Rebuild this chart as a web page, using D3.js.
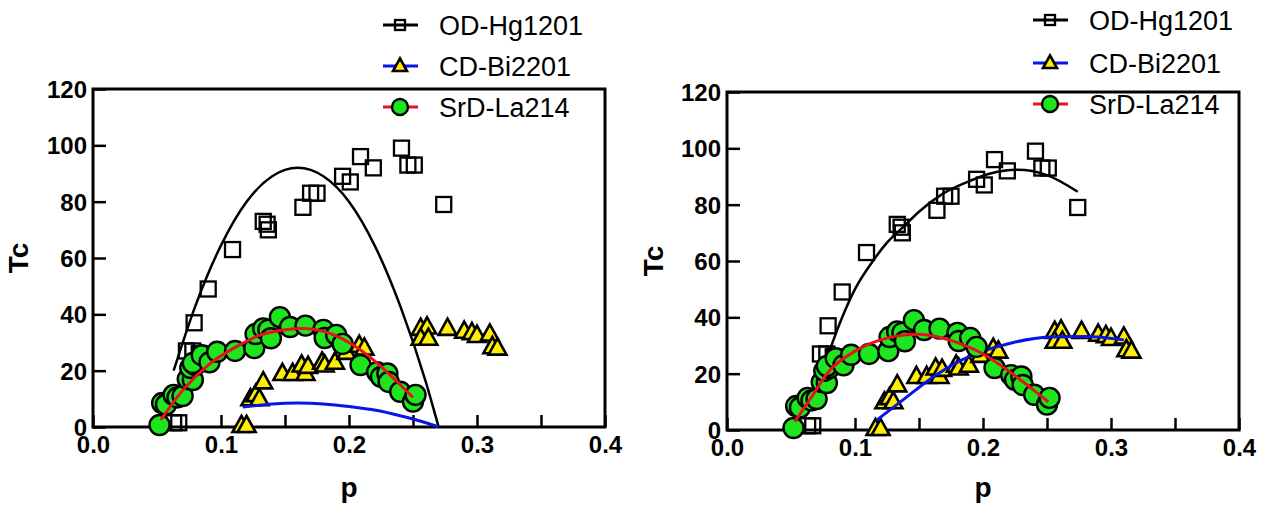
<!DOCTYPE html>
<html>
<head>
<meta charset="utf-8">
<script src="https://cdn.jsdelivr.net/npm/d3@7"></script>
<style>
  body { margin: 0; background: #fff; }
  svg { display: block; font-family: "Liberation Sans", Arial, sans-serif; }
</style>
</head>
<body>
<svg id="chart" width="1266" height="511"></svg>
<script>
// data points (same in both panels)
var hgP  = [0.063, 0.067, 0.073, 0.078, 0.083, 0.079, 0.090, 0.109, 0.133, 0.136, 0.137, 0.164, 0.170, 0.175, 0.195, 0.201, 0.209, 0.219, 0.241, 0.246, 0.251, 0.274];
var hgTc = [1.5, 1.5, 27, 27, 26, 37, 49, 63, 73, 72, 70, 78, 83, 83, 89, 87, 96, 92, 99, 93, 93, 79];

var biP  = [0.116, 0.120, 0.123, 0.127, 0.130, 0.133, 0.148, 0.156, 0.163, 0.166, 0.168, 0.179, 0.181, 0.189, 0.198, 0.208, 0.212, 0.256, 0.261, 0.256, 0.262, 0.277, 0.290, 0.296, 0.300, 0.310, 0.312, 0.316];
var biTc = [0.5, 0.5, 10, 11.5, 10, 16, 19, 19, 22, 19, 21.5, 23, 22, 23, 26.5, 29, 28, 35, 35.5, 31.5, 31.5, 35, 34, 33.5, 32.5, 33, 28.5, 28];

var laP  = [0.052, 0.054, 0.057, 0.063, 0.066, 0.070, 0.074, 0.078, 0.076, 0.080, 0.078, 0.085, 0.091, 0.097, 0.111, 0.126, 0.127, 0.133, 0.137, 0.139, 0.146, 0.154, 0.166, 0.180, 0.181, 0.190, 0.195, 0.209, 0.222, 0.225, 0.230, 0.231, 0.240, 0.250, 0.252];
var laTc = [0.7, 8.5, 8, 11.4, 10.5, 11, 17, 16.7, 21, 22, 22.7, 25.5, 23, 26.7, 27, 28, 33, 35, 34.5, 31.5, 39, 35.5, 36, 34.5, 31.6, 32.7, 29.5, 22, 19.5, 17.8, 19, 16, 12.5, 9, 11.4];

// fitted curves, left panel
var fitHgLP  = [0.063, 0.08, 0.10, 0.12, 0.14, 0.16, 0.18, 0.20, 0.22, 0.24, 0.26, 0.27];
var fitHgLTc = [20, 43, 64.5, 80, 89, 92, 89, 80, 64.5, 43, 16, 0];
var fitBiLP  = [0.117, 0.14, 0.16, 0.18, 0.20, 0.22, 0.24, 0.26, 0.27];
var fitBiLTc = [7.1, 8.2, 8.5, 8.2, 7.3, 6.0, 4.0, 1.5, 0];
var fitLaLP  = [0.053, 0.07, 0.09, 0.11, 0.13, 0.15, 0.165, 0.18, 0.20, 0.22, 0.24, 0.25];
var fitLaLTc = [2.5, 13, 22, 28, 32.5, 34.5, 35, 34, 30, 23.5, 15, 10.5];

// fitted curves, right panel
var fitHgRP  = [0.08, 0.09, 0.10, 0.114, 0.125, 0.1375, 0.15, 0.169, 0.19, 0.205, 0.227, 0.25, 0.274];
var fitHgRTc = [28, 40, 50, 60, 66.5, 72, 77.5, 84, 88.5, 91, 92.4, 90.5, 84.6];
var fitBiRP  = [0.117, 0.1375, 0.16, 0.184, 0.20, 0.223, 0.252, 0.28, 0.31];
var fitBiRTc = [3.5, 10.7, 18.5, 25, 28, 31, 33, 33.2, 32];
var fitLaRP  = [0.053, 0.065, 0.08, 0.10, 0.12, 0.14, 0.15, 0.165, 0.18, 0.20, 0.22, 0.24, 0.251];
var fitLaRTc = [3, 11, 21, 28, 32, 33.8, 34, 33, 31, 27, 21, 14, 10];

var legendNames = ["OD-Hg1201", "CD-Bi2201", "SrD-La214"];
var xTicks = [0, 0.05, 0.1, 0.15, 0.2, 0.25, 0.3, 0.35, 0.4];
var yTicks = [0, 20, 40, 60, 80, 100, 120];

var GREEN = "#1ee61e", YELLOW = "#ffee00";

var svg = d3.select("#chart");

function zip(a, b) { return a.map(function(v, i) { return [v, b[i]]; }); }

var panels = [
  { x0: 93,  x1: 605,  yb: 427, yt: 89,
    fits: [[fitHgLP, fitHgLTc], [fitBiLP, fitBiLTc], [fitLaLP, fitLaLTc]],
    legX: 400, legY: [25, 66, 107], ylabX: 18 },
  { x0: 727, x1: 1239, yb: 430, yt: 92,
    fits: [[fitHgRP, fitHgRTc], [fitBiRP, fitBiRTc], [fitLaRP, fitLaRTc]],
    legX: 1050, legY: [20, 63, 104], ylabX: 653 }
];

var lineColors = ["#000", "#0a14e6", "#e8121a"];

function drawMarker(g, kind, cx, cy, s) {
  if (kind === 0) {
    g.append("rect").attr("x", cx - s / 2).attr("y", cy - s / 2)
      .attr("width", s).attr("height", s)
      .attr("fill", "none").attr("stroke", "#000").attr("stroke-width", 2.3);
  } else if (kind === 1) {
    var h = s * 0.9;
    g.append("path")
      .attr("d", "M" + cx + "," + (cy - h * 0.6) + "L" + (cx + s / 2) + "," + (cy + h * 0.4) + "L" + (cx - s / 2) + "," + (cy + h * 0.4) + "Z")
      .attr("fill", YELLOW).attr("stroke", "#000").attr("stroke-width", 2.6)
      .attr("stroke-linejoin", "miter");
  } else {
    g.append("circle").attr("cx", cx).attr("cy", cy).attr("r", s / 2)
      .attr("fill", GREEN).attr("stroke", "#000").attr("stroke-width", 2.4);
  }
}

panels.forEach(function(pn) {
  var x = d3.scaleLinear().domain([0, 0.4]).range([pn.x0, pn.x1]);
  var y = d3.scaleLinear().domain([0, 120]).range([pn.yb, pn.yt]);
  var g = svg.append("g");

  // axes with inward ticks
  var xa = g.append("g").attr("transform", "translate(0," + pn.yb + ")")
    .call(d3.axisBottom(x).tickValues(xTicks).tickSize(-12).tickPadding(9)
      .tickFormat(function(d) { return Math.round(d * 100) % 10 === 0 ? d3.format(".1f")(d) : ""; }));
  var ya = g.append("g").attr("transform", "translate(" + pn.x0 + ",0)")
    .call(d3.axisLeft(y).tickValues(yTicks).tickSize(-13).tickPadding(6));
  [xa, ya].forEach(function(a) {
    a.select(".domain").remove();
    a.selectAll(".tick line").attr("stroke", "#000").attr("stroke-width", 2.5);
    a.selectAll(".tick text").attr("fill", "#000")
      .style("font-size", "24px").style("font-weight", "bold");
  });
  xa.selectAll(".tick text").attr("dy", "0.72em");
  ya.selectAll(".tick text").attr("dy", "0.36em");

  g.append("rect").attr("x", pn.x0).attr("y", pn.yt)
    .attr("width", pn.x1 - pn.x0).attr("height", pn.yb - pn.yt)
    .attr("fill", "none").attr("stroke", "#000").attr("stroke-width", 3);

  g.append("text").attr("x", (pn.x0 + pn.x1) / 2).attr("y", 497)
    .attr("text-anchor", "middle").style("font-size", "28px").style("font-weight", "bold")
    .text("p");
  g.append("text").attr("transform", "translate(" + (pn.ylabX + 10) + "," + ((pn.yb + pn.yt) / 2) + ") rotate(-90)")
    .attr("text-anchor", "middle").style("font-size", "28px").style("font-weight", "bold")
    .text("Tc");

  var line = d3.line().x(function(d) { return x(d[0]); }).y(function(d) { return y(d[1]); })
    .curve(d3.curveMonotoneX);

  var series = [zip(hgP, hgTc), zip(biP, biTc), zip(laP, laTc)];
  var sizes = [15, 18, 20];

  series.forEach(function(pts, k) {
    var mg = g.append("g");
    pts.forEach(function(d) { drawMarker(mg, k, x(d[0]), y(d[1]), sizes[k]); });
    g.append("path").datum(zip(pn.fits[k][0], pn.fits[k][1]))
      .attr("d", line).attr("fill", "none")
      .attr("stroke", lineColors[k]).attr("stroke-width", k === 0 ? 2.5 : 3);
  });

  // legend
  legendNames.forEach(function(name, k) {
    var ly = pn.legY[k];
    var lg = g.append("g");
    lg.append("line").attr("x1", pn.legX - 17).attr("x2", pn.legX + 18)
      .attr("y1", ly).attr("y2", ly).attr("stroke", lineColors[k]).attr("stroke-width", 3);
    drawMarker(lg, k, pn.legX, ly, [10, 14, 16][k]);
    lg.append("text").attr("x", pn.legX + 39).attr("y", ly).attr("dy", "0.36em")
      .style("font-size", "27px").text(name);
  });
});
</script>
</body>
</html>
